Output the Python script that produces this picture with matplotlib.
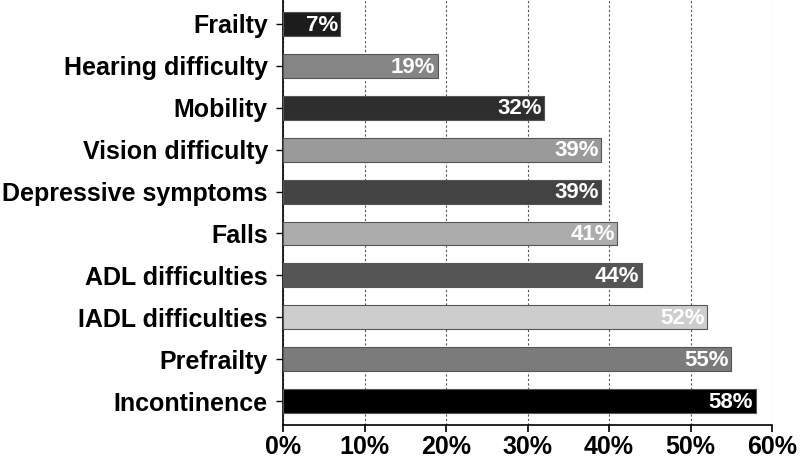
import numpy as np
import matplotlib
matplotlib.use("Agg")
import matplotlib.pyplot as plt

plt.rcParams['font.family'] = ['Liberation Sans', 'DejaVu Sans']

categories = ["Frailty", "Hearing difficulty", "Mobility", "Vision difficulty",
              "Depressive symptoms", "Falls", "ADL difficulties", "IADL difficulties",
              "Prefrailty", "Incontinence"]
values = [7, 19, 32, 39, 39, 41, 44, 52, 55, 58]
colors = ["#1c1c1c", "#858585", "#2e2e2e", "#9a9a9a", "#434343",
          "#acacac", "#555555", "#cdcdcd", "#7b7b7b", "#000000"]

fig = plt.figure(figsize=(8, 4.58), dpi=100)
ax = fig.add_axes([0.354, 0.072, 0.611, 0.928])

y = np.arange(len(categories))
ax.barh(y, values, height=0.57, color=colors, edgecolor="#555555", linewidth=0.8, zorder=3)

for yi, v in zip(y, values):
    ax.text(v - 0.3, yi + 0.03, f"{v}%", ha="right", va="center", color="white",
            fontsize=16, fontweight="bold", zorder=4)

ax.set_xlim(0, 60)
ax.set_ylim(len(categories) - 0.43, -0.57)
ax.set_xticks(np.arange(0, 61, 10))
ax.set_xticklabels([f"{t}%" for t in range(0, 61, 10)], fontsize=18, fontweight="bold")
ax.set_yticks(y)
ax.set_yticklabels(categories, fontsize=18, fontweight="bold")
ax.xaxis.grid(True, linestyle=(0, (2, 2)), color="#555555", linewidth=0.8, zorder=0)
for s in ["top", "right"]:
    ax.spines[s].set_visible(False)
ax.spines["left"].set_linewidth(1.2)
ax.spines["bottom"].set_linewidth(1.2)
ax.tick_params(axis="x", length=5, width=1.2, pad=2)
ax.tick_params(axis="y", length=5, width=1.0, pad=6)

plt.savefig("out.png", dpi=100)
plt.close()
